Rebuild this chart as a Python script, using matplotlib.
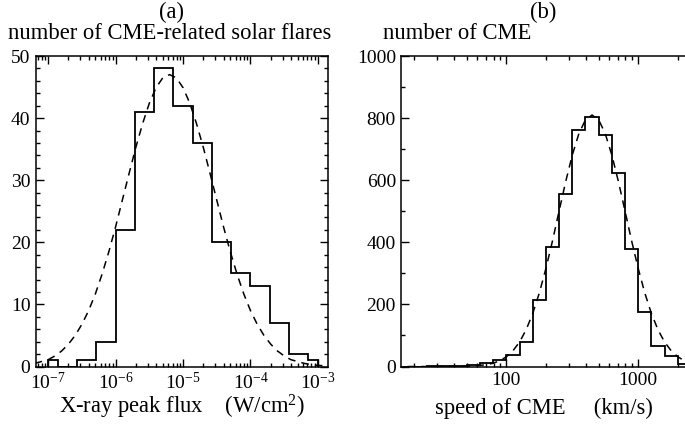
import numpy as np
import matplotlib
matplotlib.use("Agg")
import matplotlib.pyplot as plt
from matplotlib.ticker import LogLocator, MultipleLocator, NullFormatter

# panel (a): flare X-ray peak flux histogram (log10 bin edges) and counts
flux_edges_log = [-7.0, -6.857, -6.571, -6.286, -6.0, -5.714, -5.429, -5.143,
                  -4.857, -4.571, -4.286, -4.0, -3.714, -3.429, -3.143, -3.0]
flux_counts = [1, 0, 1, 4, 22, 41, 48, 42, 36, 20, 15, 13, 7, 2, 1]

# dashed fit curve (a)
flux_fit_log = [-7.2, -7.1, -7.0, -6.9, -6.8, -6.7, -6.6, -6.5, -6.4, -6.3,
                -6.2, -6.1, -6.0, -5.9, -5.8, -5.7, -5.6, -5.5, -5.4, -5.3,
                -5.2, -5.1, -5.0, -4.9, -4.8, -4.7, -4.6, -4.5, -4.4, -4.3,
                -4.2, -4.1, -4.0, -3.9, -3.8, -3.7, -3.6, -3.5, -3.4, -3.3,
                -3.2, -3.1, -3.0, -2.9]
flux_fit = [0.5, 0.8, 1.1, 1.7, 2.5, 3.6, 5.0, 6.8, 9.0, 11.7,
            14.9, 18.5, 22.5, 26.8, 31.1, 35.3, 39.1, 42.4, 44.9, 46.5,
            47.0, 46.5, 44.9, 42.4, 39.1, 35.3, 31.1, 26.8, 22.5, 18.5,
            14.9, 11.7, 9.0, 6.8, 5.0, 3.6, 2.5, 1.7, 1.1, 0.8,
            0.5, 0.3, 0.2, 0.1]

# panel (b): CME speed histogram (log10 bin edges, km/s) and counts
speed_edges_log = [1.2, 1.3, 1.4, 1.5, 1.6, 1.7, 1.8, 1.9, 2.0, 2.1, 2.2, 2.3,
                   2.4, 2.5, 2.6, 2.7, 2.8, 2.9, 3.0, 3.1, 3.2, 3.3, 3.4]
speed_counts = [0, 0, 1, 1, 2, 4, 10, 22, 36, 80, 214, 384, 556, 763, 802,
                745, 624, 377, 175, 66, 34, 8]

# dashed fit curve (b)
speed_fit_log = [1.25, 1.45, 1.65, 1.75, 1.85, 1.90, 1.95, 2.00, 2.05, 2.10,
                 2.15, 2.20, 2.25, 2.30, 2.35, 2.40, 2.45, 2.50, 2.55, 2.60,
                 2.65, 2.70, 2.75, 2.80, 2.85, 2.90, 2.95, 3.00, 3.05, 3.10,
                 3.15, 3.20, 3.25, 3.30, 3.35, 3.40]
speed_fit = [0, 0, 0.4, 1.6, 5.9, 10.7, 18.7, 31.4, 50.9, 79,
             118.5, 171, 237, 316, 405, 501, 595.5, 681, 750, 794.6,
             810, 794.6, 750, 681, 595.5, 501, 405, 316, 237, 171,
             118.5, 79, 50.9, 31.4, 18.7, 10.7]

plt.rcParams['font.family'] = ['Liberation Serif', 'DejaVu Serif']
plt.rcParams['mathtext.fontset'] = 'custom'
plt.rcParams['mathtext.rm'] = 'Liberation Serif'
plt.rcParams['mathtext.it'] = 'Liberation Serif:italic'
plt.rcParams['mathtext.bf'] = 'Liberation Serif:bold'
plt.rcParams['axes.unicode_minus'] = True

FS = 14      # tick labels
FS_T = 16.3  # titles and axis labels
fig = plt.figure(figsize=(6.85, 4.25), dpi=100)
ax1 = fig.add_axes([0.0526, 0.1376, 0.4263, 0.7306])
ax2 = fig.add_axes([0.5861, 0.1376, 0.4159, 0.7306])


def style(ax, right=True):
    ax.set_xscale('log')
    for s in ax.spines.values():
        s.set_linewidth(1.1)
    ax.tick_params(which='both', direction='in', top=True, right=right,
                   labelsize=FS, width=1.0, pad=4)
    ax.tick_params(which='major', length=6)
    ax.tick_params(which='minor', length=3)
    ax.xaxis.set_minor_locator(LogLocator(base=10, subs=np.arange(2, 10)))
    ax.xaxis.set_minor_formatter(NullFormatter())


# (a)
style(ax1)
ax1.stairs(flux_counts, 10 ** np.array(flux_edges_log), color='black', lw=1.3)
ax1.plot(10 ** np.array(flux_fit_log), flux_fit, color='black', lw=1.1,
         dashes=(5, 4))
ax1.set_xlim(10 ** -7.18, 10 ** -2.85)
ax1.set_ylim(0, 50)
ax1.xaxis.set_major_locator(LogLocator(base=10, numticks=10))
ax1.yaxis.set_major_locator(MultipleLocator(10))
ax1.yaxis.set_minor_locator(MultipleLocator(2))
ax1.set_xlabel('X-ray peak flux    (W/cm$^2$)', fontsize=FS_T, va='center')
ax1.xaxis.set_label_coords(0.5, -0.131)

# (b)
style(ax2, right=False)
ax2.stairs(speed_counts, 10 ** np.array(speed_edges_log), color='black', lw=1.3)
ax2.plot(10 ** np.array(speed_fit_log), speed_fit, color='black', lw=1.1,
         dashes=(5, 4))
ax2.set_xlim(16, 2320)
ax2.set_ylim(0, 1000)
ax2.xaxis.set_major_locator(LogLocator(base=10, numticks=10))
ax2.xaxis.set_major_formatter(matplotlib.ticker.FuncFormatter(lambda v, p: '%d' % v))
ax2.yaxis.set_major_locator(MultipleLocator(200))
ax2.yaxis.set_minor_locator(MultipleLocator(100))
ax2.set_xlabel('speed of CME     (km/s)', fontsize=FS_T, va='center')
ax2.xaxis.set_label_coords(0.5, -0.134)

# titles above the panels
fig.text(172 / 685, 1 - 12 / 425, '(a)', fontsize=FS_T, ha='center', va='center')
fig.text(8 / 685, 1 - 33.5 / 425, 'number of CME-related solar flares',
         fontsize=FS_T, ha='left', va='center')
fig.text(543 / 685, 1 - 12 / 425, '(b)', fontsize=FS_T, ha='center', va='center')
fig.text(383 / 685, 1 - 33.5 / 425, 'number of CME',
         fontsize=FS_T, ha='left', va='center')

fig.savefig('out.png', dpi=100)
